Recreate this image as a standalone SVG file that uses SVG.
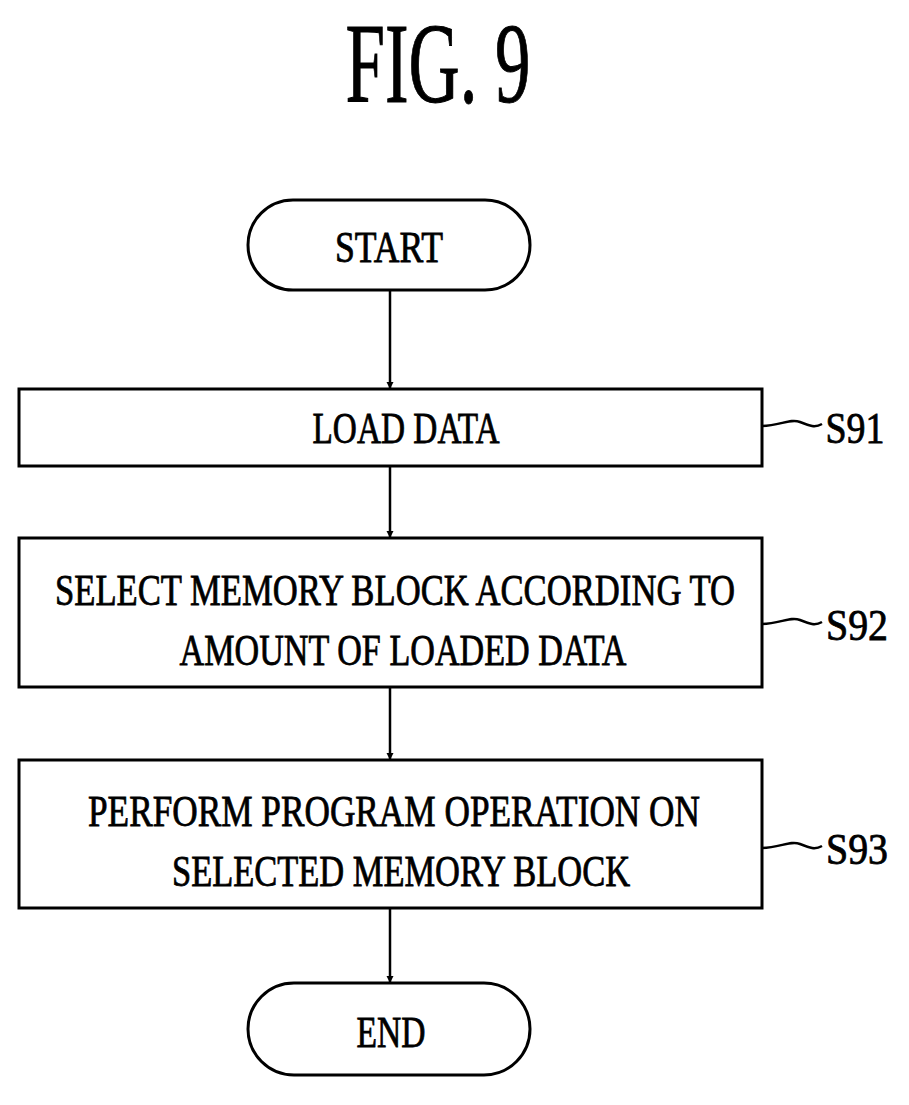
<svg xmlns="http://www.w3.org/2000/svg" width="909" height="1105" viewBox="0 0 909 1105">
<defs>
<style>
.b{fill:#fff;stroke:#000;stroke-width:3}
.t{font-family:"Liberation Serif",serif;font-size:44px;fill:#000;text-anchor:middle;stroke:#000;stroke-width:0.8}
.l{fill:none;stroke:#000;stroke-width:2.5}
</style>
<marker id="a" viewBox="0 0 10 10" refX="10" refY="5" markerWidth="7" markerHeight="9" orient="auto" markerUnits="userSpaceOnUse"><path d="M0,0L10,5L0,10z"/></marker>
</defs>
<rect width="909" height="1105" fill="#fff"/>
<text class="t" x="438" y="102" style="font-size:115px;stroke-width:1" textLength="185" lengthAdjust="spacingAndGlyphs">FIG. 9</text>
<g id="start"><rect class="b" x="248" y="200" width="282" height="90" rx="45"/><text class="t" x="389" y="262" textLength="108" lengthAdjust="spacingAndGlyphs">START</text></g>
<g id="s91"><rect class="b" x="19" y="389" width="743" height="77"/><text class="t" x="406" y="443" textLength="187" lengthAdjust="spacingAndGlyphs">LOAD DATA</text>
<path class="l" d="M762,426 C780,426 790,418 800,422 S815,428 822,424"/><text class="t" x="855" y="443" textLength="59" lengthAdjust="spacingAndGlyphs">S91</text></g>
<g id="s92"><rect class="b" x="19" y="538" width="743" height="149"/><text class="t" x="395" y="605" textLength="680" lengthAdjust="spacingAndGlyphs">SELECT MEMORY BLOCK ACCORDING TO</text><text class="t" x="403" y="665" textLength="447" lengthAdjust="spacingAndGlyphs">AMOUNT OF LOADED DATA</text>
<path class="l" d="M762,624 C780,624 790,616 800,620 S815,626 822,622"/><text class="t" x="857" y="640" textLength="62" lengthAdjust="spacingAndGlyphs">S92</text></g>
<g id="s93"><rect class="b" x="19" y="760" width="743" height="148"/><text class="t" x="394" y="826" textLength="612" lengthAdjust="spacingAndGlyphs">PERFORM PROGRAM OPERATION ON</text><text class="t" x="401" y="886" textLength="458" lengthAdjust="spacingAndGlyphs">SELECTED MEMORY BLOCK</text>
<path class="l" d="M762,848 C780,848 790,840 800,844 S815,850 822,846"/><text class="t" x="857" y="864" textLength="62" lengthAdjust="spacingAndGlyphs">S93</text></g>
<g id="end"><rect class="b" x="248" y="983" width="282" height="92" rx="46"/><text class="t" x="391" y="1047" textLength="69" lengthAdjust="spacingAndGlyphs">END</text></g>
<g id="connectors" stroke="#000" stroke-width="2.5">
<line x1="390" y1="290" x2="390" y2="389" marker-end="url(#a)"/>
<line x1="390" y1="466" x2="390" y2="538" marker-end="url(#a)"/>
<line x1="390" y1="687" x2="390" y2="760" marker-end="url(#a)"/>
<line x1="390" y1="908" x2="390" y2="983" marker-end="url(#a)"/>
</g>
</svg>
